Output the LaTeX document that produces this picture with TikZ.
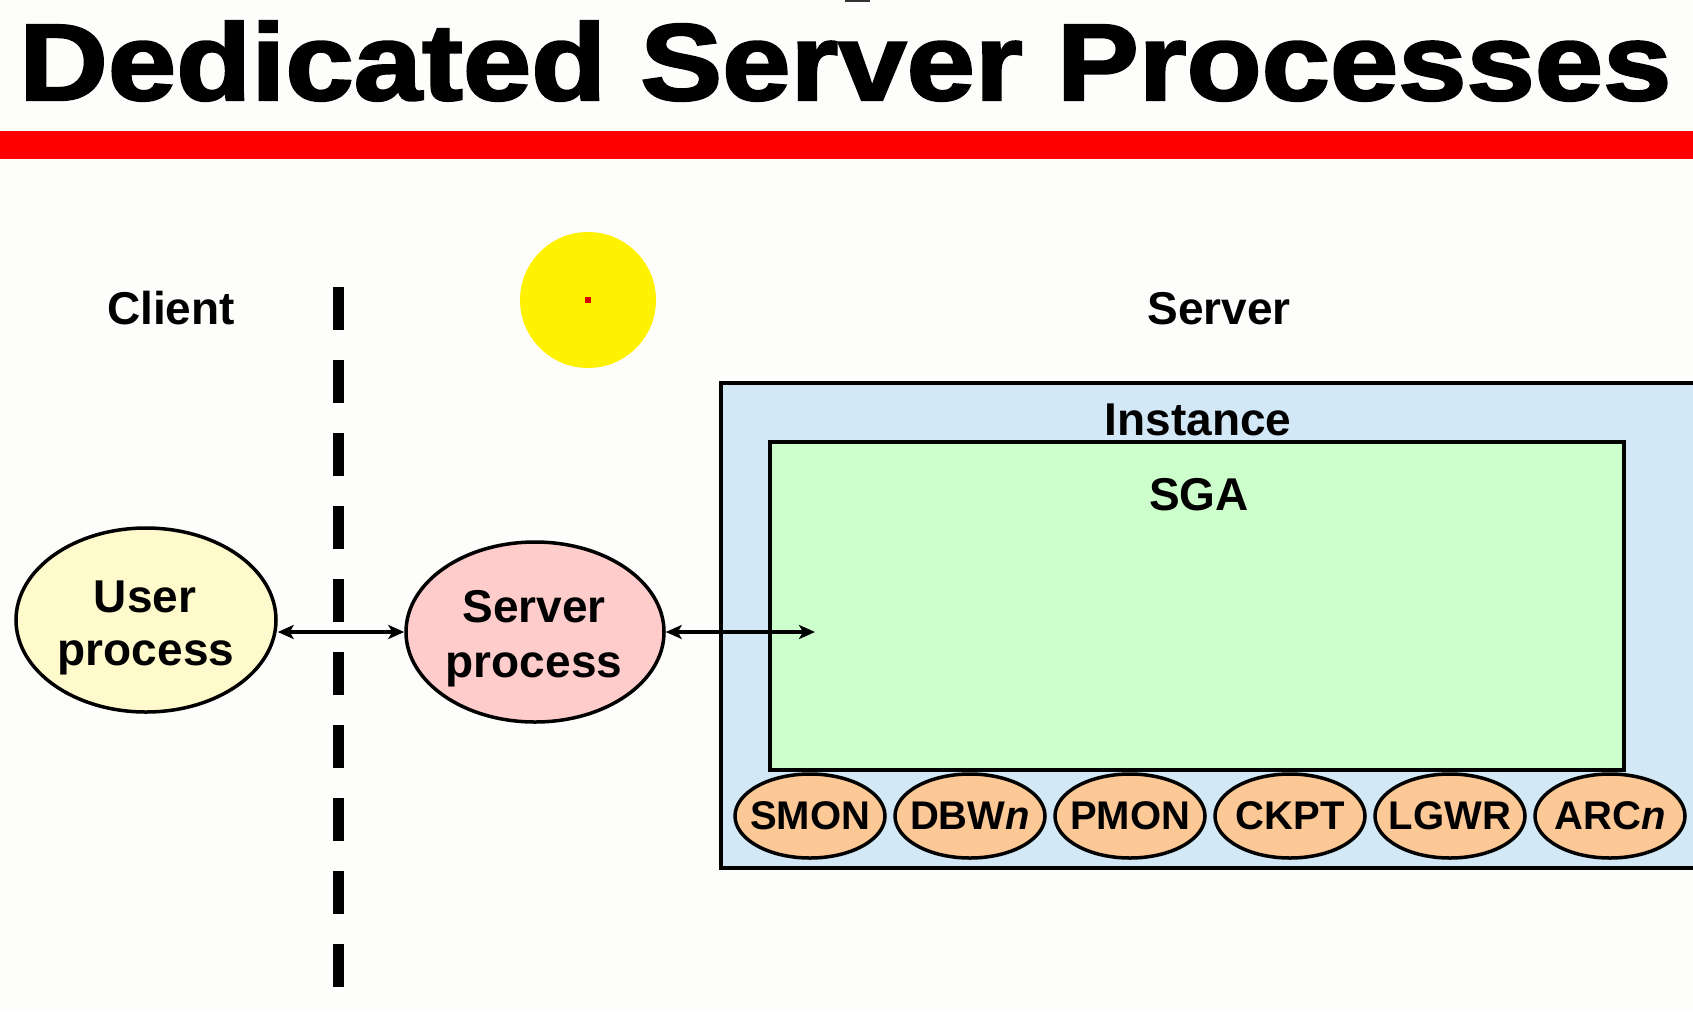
\documentclass[tikz,border=0pt]{standalone}
\usepackage{fontspec}
\setmainfont{Liberation Sans}
\newfontfamily\titlefont[FakeBold=2]{Liberation Sans}
\usetikzlibrary{shapes.geometric,arrows.meta}
\definecolor{bgc}{HTML}{FDFDFB}
\definecolor{userc}{HTML}{FFFACC}
\definecolor{srvc}{HTML}{FFCCCC}
\definecolor{instc}{HTML}{D2E8F6}
\definecolor{sgac}{HTML}{CCFFCC}
\definecolor{procc}{HTML}{FBC896}
\definecolor{barc}{HTML}{FF0000}
\begin{document}
\begin{tikzpicture}[x=1pt,y=-1pt,
  lbl/.style={font=\bfseries\fontsize{46}{53}\selectfont, inner sep=0pt, anchor=base},
  bigell/.style={ellipse, draw=black, line width=3.5pt, inner sep=0pt},
  procn/.style={ellipse, draw=black, fill=procc, line width=3.5pt, minimum width=150pt, minimum height=84pt, inner sep=0pt},
  procl/.style={font=\bfseries\fontsize{40}{46}\selectfont, inner sep=0pt},
  box/.style={draw=black, line width=4.5pt, inner sep=0pt},
  conn/.style={line width=3.5pt, {Stealth[length=16pt,width=14pt,inset=4pt]}-{Stealth[length=16pt,width=14pt,inset=4pt]}}
]
\useasboundingbox (0,0) rectangle (1693,1012);
\clip (0,0) rectangle (1693,1012);
\fill[bgc] (0,0) rectangle (1693,1012);
% top remnant mark
\fill[black!80] (845,0) rectangle (870,2);
% title
\node[anchor=base west, inner sep=0pt] (title) at (19,100)
  {\scalebox{1.127}[1]{\titlefont\bfseries\fontsize{109}{120}\selectfont Dedicated Server Processes}};
% red bar
\fill[barc] (0,131) rectangle (1693,159);
% labels
\node[lbl] (client) at (171,324) {Client};
\node[lbl] (server) at (1219,324) {Server};
% dashed divider
\draw[line width=11pt, dash pattern=on 43pt off 30pt] (338,287) -- (338,987);
% cursor highlight
\fill[yellow] (588,300) circle (68);
\fill[red!85!black] (588,300) ++(-3,-3) rectangle ++(6,6);
% instance
\node[box, fill=instc, minimum width=1000pt, minimum height=485pt] (inst) at (1221,625.5) {};
\node[lbl] (instlbl) at (1198,435) {Instance};
% SGA
\node[box, fill=sgac, minimum width=854pt, minimum height=328pt] (sga) at (1197,606) {};
\node[lbl] (sgalbl) at (1199,510) {SGA};
% background processes
\node[procn, label={[procl]center:SMON}] (p1) at (810,816) {};
\node[procn, label={[procl]center:DBW\textit{n}}] (p2) at (970,816) {};
\node[procn, label={[procl]center:PMON}] (p3) at (1130,816) {};
\node[procn, label={[procl]center:CKPT}] (p4) at (1290,816) {};
\node[procn, label={[procl]center:LGWR}] (p5) at (1450,816) {};
\node[procn, label={[procl]center:ARC\textit{n}}] (p6) at (1610,816) {};
\foreach \p in {p1,p2,p3,p4,p5,p6}
  \draw[line width=3pt] (\p.north) -- (\p.north |- sga.south);
% user and server process
\node[bigell, fill=userc, minimum width=260pt, minimum height=184pt] (user) at (146,620) {};
\node[lbl] (user1) at (145,612) {User};
\node[lbl] (user2) at (146,665) {process};
\node[bigell, fill=srvc, minimum width=258pt, minimum height=180pt] (srv) at (535,632) {};
\node[lbl] (srv1) at (534,622) {Server};
\node[lbl] (srv2) at (534,677) {process};
% connectors
\coordinate (sgain) at (815,632);
\draw[conn] (srv.west -| user.east) -- (srv.west);
\draw[conn] (srv.east) -- (sgain);
\end{tikzpicture}
\end{document}
